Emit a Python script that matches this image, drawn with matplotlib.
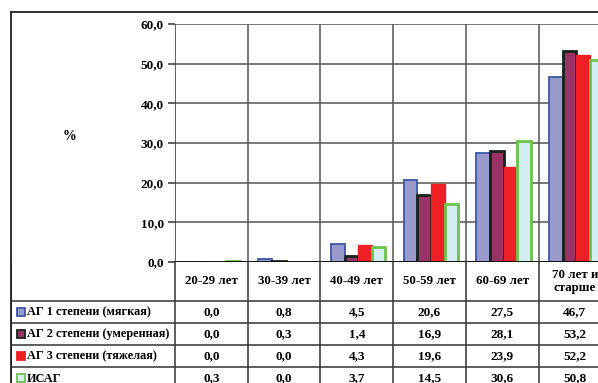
import numpy as np
import matplotlib.pyplot as plt
from matplotlib.patches import Rectangle
from matplotlib.lines import Line2D

plt.rcParams['font.family'] = ['Liberation Serif', 'DejaVu Serif']
plt.rcParams['font.weight'] = 'bold'

categories = ['20-29 лет', '30-39 лет', '40-49 лет', '50-59 лет', '60-69 лет', '70 лет и\nстарше']
series_names = ['АГ 1 степени (мягкая)', 'АГ 2 степени (умеренная)',
                'АГ 3 степени (тяжелая)', 'ИСАГ']
ag1 = [0.0, 0.8, 4.5, 20.6, 27.5, 46.7]
ag2 = [0.0, 0.3, 1.4, 16.9, 28.1, 53.2]
ag3 = [0.0, 0.0, 4.3, 19.6, 23.9, 52.2]
isag = [0.3, 0.0, 3.7, 14.5, 30.6, 50.8]
series = [ag1, ag2, ag3, isag]

fills = ['#9999cc', '#993366', '#ee2026', '#d4eef4']
edges = ['#3a58a8', '#15241a', '#ee2026', '#6cc24a']
lws = [1.3, 2.0, 1.0, 2.0]
yticks = np.arange(0, 61, 10)

W, H = 598, 383
fig = plt.figure(figsize=(W / 100, H / 100), dpi=100)

def px_box(x0, y0, x1, y1):
    # pixel box (top-left origin) -> figure fraction rect
    return [x0 / W, 1 - y1 / H, (x1 - x0) / W, (y1 - y0) / H]

colw = 72.7
x_left, x_plot = 11, 175
x_right = x_plot + 6 * colw

# outer frame
fig.add_artist(Line2D([x_left / W, 1], [1 - 12 / H] * 2, color='#222222', lw=1.3))
fig.add_artist(Line2D([x_left / W] * 2, [0, 1 - 12 / H], color='#222222', lw=1.3))

# bar chart
ax = fig.add_axes(px_box(x_plot, 24, x_right, 262))
ax.set_xlim(0, 6)
ax.set_ylim(0, 60)
x = np.arange(6) + 0.5
bw = 0.1875
for i, vals in enumerate(series):
    ax.bar(x + (i - 1.5) * bw + 0.02, vals, width=bw, color=fills[i],
           edgecolor=edges[i], linewidth=lws[i], zorder=3)
for yv in yticks[1:]:
    ax.axhline(yv, color='#555555', lw=1.1, zorder=1)
for xv in range(1, 6):
    ax.axvline(xv, color='#555555', lw=1.1, zorder=1)
ax.axhline(0, color='#111111', lw=1.4, zorder=4)
ax.axvline(0, color='#333333', lw=1.1, zorder=1)
for s in ax.spines.values():
    s.set_visible(False)
ax.set_xticks([])
ax.set_yticks(yticks)
ax.yaxis.set_major_formatter(plt.FuncFormatter(lambda v, p: ('%.1f' % v).replace('.', ',')))
ax.tick_params(axis='y', length=5, width=1.1, color='#333333', pad=3, labelsize=9.5)
fig.text(70 / W, 1 - 137 / H, '%', ha='center', va='center', fontsize=10, fontweight='bold')

# data table below the chart
tx = fig.add_axes(px_box(x_left, 262, x_right, 383 + 30))
tx.set_xlim(-(x_plot - x_left) / colw, 6)
tx.set_ylim(413, 262)
tx.axis('off')
row_top = [301, 323, 345, 367]
row_h = 22
for xv in range(0, 6):
    tx.plot([xv, xv], [262, 413], color='#333333', lw=1.1, clip_on=False)
tx.plot([tx.get_xlim()[0]] * 2, [262, 413], color='#222222', lw=1.3)
for yv in row_top + [389]:
    tx.plot(tx.get_xlim(), [yv, yv], color='#333333', lw=1.1)
for j, c in enumerate(categories):
    tx.text(j + 0.5, 281.5, c, ha='center', va='center', fontsize=9.3,
            fontweight='bold', linespacing=1.15)
xl = tx.get_xlim()[0]
for i, (name, vals) in enumerate(zip(series_names, series)):
    yc = row_top[i] + row_h / 2
    tx.add_patch(Rectangle((xl + 6 / colw, yc - 4), 8 / colw, 8,
                           facecolor=fills[i], edgecolor=edges[i], lw=1.3))
    tx.text(xl + 16 / colw, yc + 0.5, name, ha='left', va='center', fontsize=8.8,
            fontweight='bold')
    for j, v in enumerate(vals):
        tx.text(j + 0.5, yc + 0.5, ('%.1f' % v).replace('.', ','), ha='center',
                va='center', fontsize=9.5, fontweight='bold')

fig.savefig('out.png', dpi=100)
